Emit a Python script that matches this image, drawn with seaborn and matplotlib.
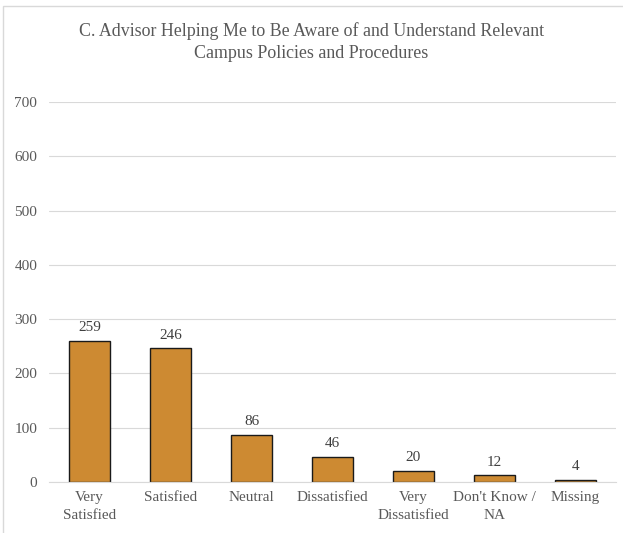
import pandas as pd
import matplotlib
matplotlib.use("Agg")
import matplotlib.pyplot as plt
import seaborn as sns
from matplotlib.patches import Rectangle

# data
categories = ["Very\nSatisfied", "Satisfied", "Neutral", "Dissatisfied",
              "Very\nDissatisfied", "Don't Know /\nNA", "Missing"]
counts = [259, 246, 86, 46, 20, 12, 4]
title = ("C. Advisor Helping Me to Be Aware of and Understand Relevant\n"
         "Campus Policies and Procedures")

df = pd.DataFrame({"Response": categories, "Count": counts})

sns.set_style("white")
plt.rcParams["font.family"] = ["Liberation Serif", "DejaVu Serif"]

fig = plt.figure(figsize=(6.23, 5.33), dpi=100)
ax = fig.add_axes([0.0787, 0.0957, 0.910, 0.7129])

sns.barplot(data=df, x="Response", y="Count", color="#CD8A32",
            edgecolor="#1a1a1a", linewidth=1.0, width=0.5, saturation=1, ax=ax)

ax.set_ylim(0, 700)
ax.set_yticks(range(0, 701, 100))
ax.yaxis.grid(True, color="#D9D9D9", linewidth=0.8)
ax.set_axisbelow(True)
for s in ["top", "right", "left"]:
    ax.spines[s].set_visible(False)
ax.spines["bottom"].set_color("#D9D9D9")
ax.tick_params(axis="both", length=0, labelsize=11, labelcolor="#595959")
ax.tick_params(axis="y", pad=8.5)
ax.tick_params(axis="x", pad=6.5)
ax.set_xlabel("")
ax.set_ylabel("")
for lbl in ax.get_xticklabels():
    lbl.set_linespacing(1.45)

for c in ax.containers:
    ax.bar_label(c, padding=5, fontsize=11, color="#404040")

fig.text(0.5, 0.958, title, ha="center", va="top", fontsize=12.9,
         color="#595959", linespacing=1.35)

# outer chart border
fig.patches.append(Rectangle((3 / 623, -0.1), 1.2, (533 - 6) / 533 + 0.1,
                             transform=fig.transFigure, fill=False,
                             edgecolor="#D9D9D9", linewidth=1))

fig.savefig("out.png", dpi=100)
